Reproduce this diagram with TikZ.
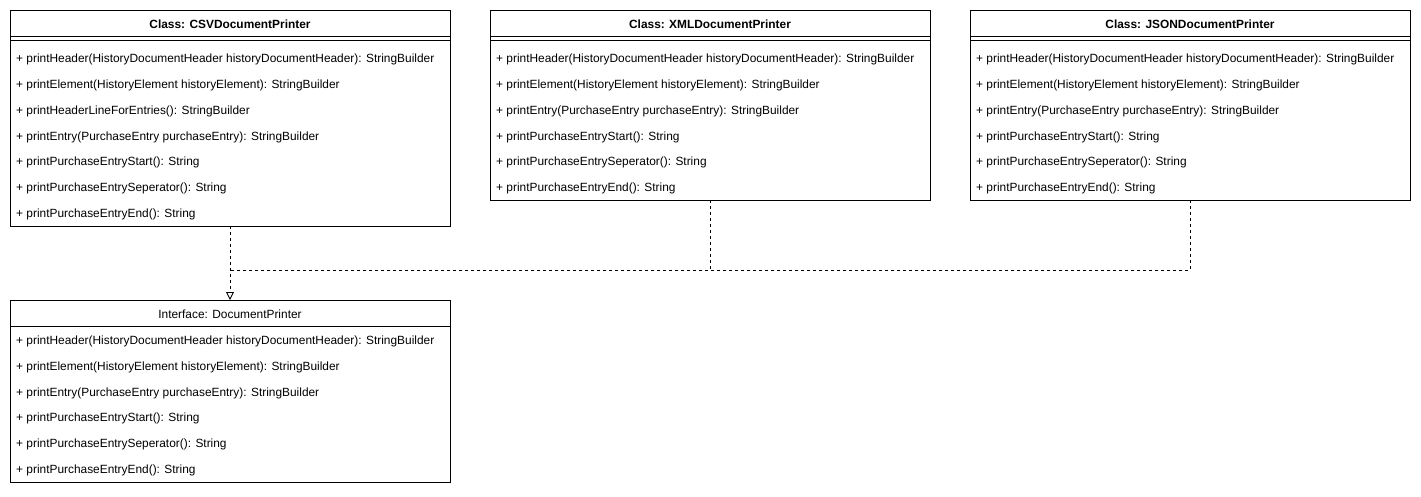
\documentclass[tikz,border=0pt]{standalone}
\usepackage{fontspec}
\setmainfont{Liberation Sans}
\usetikzlibrary{arrows.meta}
\begin{document}
\begin{tikzpicture}[x=1pt,y=-1pt,
  box/.style={draw, line width=0.9pt, minimum width=440pt, anchor=north west, inner sep=0pt, outer sep=0pt},
  ttl/.style={font=\fontsize{11.9}{13}\selectfont\bfseries, inner sep=0pt},
  ittl/.style={font=\fontsize{11.9}{13}\selectfont, inner sep=0pt},
  member/.style={font=\fontsize{11.9}{13}\selectfont, anchor=base west, inner sep=0pt},
  sep/.style={line width=0.9pt},
  dep/.style={dash pattern=on 3pt off 3pt, line width=0.9pt},
  realize/.style={dep, -{Triangle[open, length=8pt, width=8pt, line width=0.9pt, fill=white]}}]
\useasboundingbox (0,0) rectangle (1421,496);
% CSV
\node[box, minimum height=216pt] (csv) at (10,10) {};
\node[ttl] (csvt) at (230,24) {Class: CSVDocumentPrinter};
\draw[sep] (10,36) -- (450,36);
\draw[sep] (10,40) -- (450,40);
\node[member] (csv1) at (16,62) {+ printHeader(HistoryDocumentHeader historyDocumentHeader): StringBuilder};
\node[member] (csv2) at (16,88) {+ printElement(HistoryElement historyElement): StringBuilder};
\node[member] (csv3) at (16,114) {+ printHeaderLineForEntries(): StringBuilder};
\node[member] (csv4) at (16,140) {+ printEntry(PurchaseEntry purchaseEntry): StringBuilder};
\node[member] (csv5) at (16,165) {+ printPurchaseEntryStart(): String};
\node[member] (csv6) at (16,191) {+ printPurchaseEntrySeperator(): String};
\node[member] (csv7) at (16,217) {+ printPurchaseEntryEnd(): String};
% XML
\node[box, minimum height=190pt] (xml) at (490,10) {};
\node[ttl] (xmlt) at (710,24) {Class: XMLDocumentPrinter};
\draw[sep] (490,36) -- (930,36);
\draw[sep] (490,40) -- (930,40);
\node[member] (xml1) at (496,62) {+ printHeader(HistoryDocumentHeader historyDocumentHeader): StringBuilder};
\node[member] (xml2) at (496,88) {+ printElement(HistoryElement historyElement): StringBuilder};
\node[member] (xml3) at (496,114) {+ printEntry(PurchaseEntry purchaseEntry): StringBuilder};
\node[member] (xml4) at (496,140) {+ printPurchaseEntryStart(): String};
\node[member] (xml5) at (496,165) {+ printPurchaseEntrySeperator(): String};
\node[member] (xml6) at (496,191) {+ printPurchaseEntryEnd(): String};
% JSON
\node[box, minimum height=190pt] (json) at (970,10) {};
\node[ttl] (jsont) at (1190,24) {Class: JSONDocumentPrinter};
\draw[sep] (970,36) -- (1410,36);
\draw[sep] (970,40) -- (1410,40);
\node[member] (json1) at (976,62) {+ printHeader(HistoryDocumentHeader historyDocumentHeader): StringBuilder};
\node[member] (json2) at (976,88) {+ printElement(HistoryElement historyElement): StringBuilder};
\node[member] (json3) at (976,114) {+ printEntry(PurchaseEntry purchaseEntry): StringBuilder};
\node[member] (json4) at (976,140) {+ printPurchaseEntryStart(): String};
\node[member] (json5) at (976,165) {+ printPurchaseEntrySeperator(): String};
\node[member] (json6) at (976,191) {+ printPurchaseEntryEnd(): String};
% Interface
\node[box, minimum height=182pt] (iface) at (10,300) {};
\node[ittl] (ifacet) at (230,314) {Interface: DocumentPrinter};
\draw[sep] (10,326) -- (450,326);
\node[member] (if1) at (16,344) {+ printHeader(HistoryDocumentHeader historyDocumentHeader): StringBuilder};
\node[member] (if2) at (16,370) {+ printElement(HistoryElement historyElement): StringBuilder};
\node[member] (if3) at (16,396) {+ printEntry(PurchaseEntry purchaseEntry): StringBuilder};
\node[member] (if4) at (16,421) {+ printPurchaseEntryStart(): String};
\node[member] (if5) at (16,447) {+ printPurchaseEntrySeperator(): String};
\node[member] (if6) at (16,473) {+ printPurchaseEntryEnd(): String};
% connectors
\coordinate (jc) at (230,270);
\coordinate (jx) at (710,270);
\draw[realize] (csv.south) -- (iface.north);
\draw[dep] (xml.south) |- (jc);
\draw[dep] (json.south) |- (jx);
\end{tikzpicture}
\end{document}
